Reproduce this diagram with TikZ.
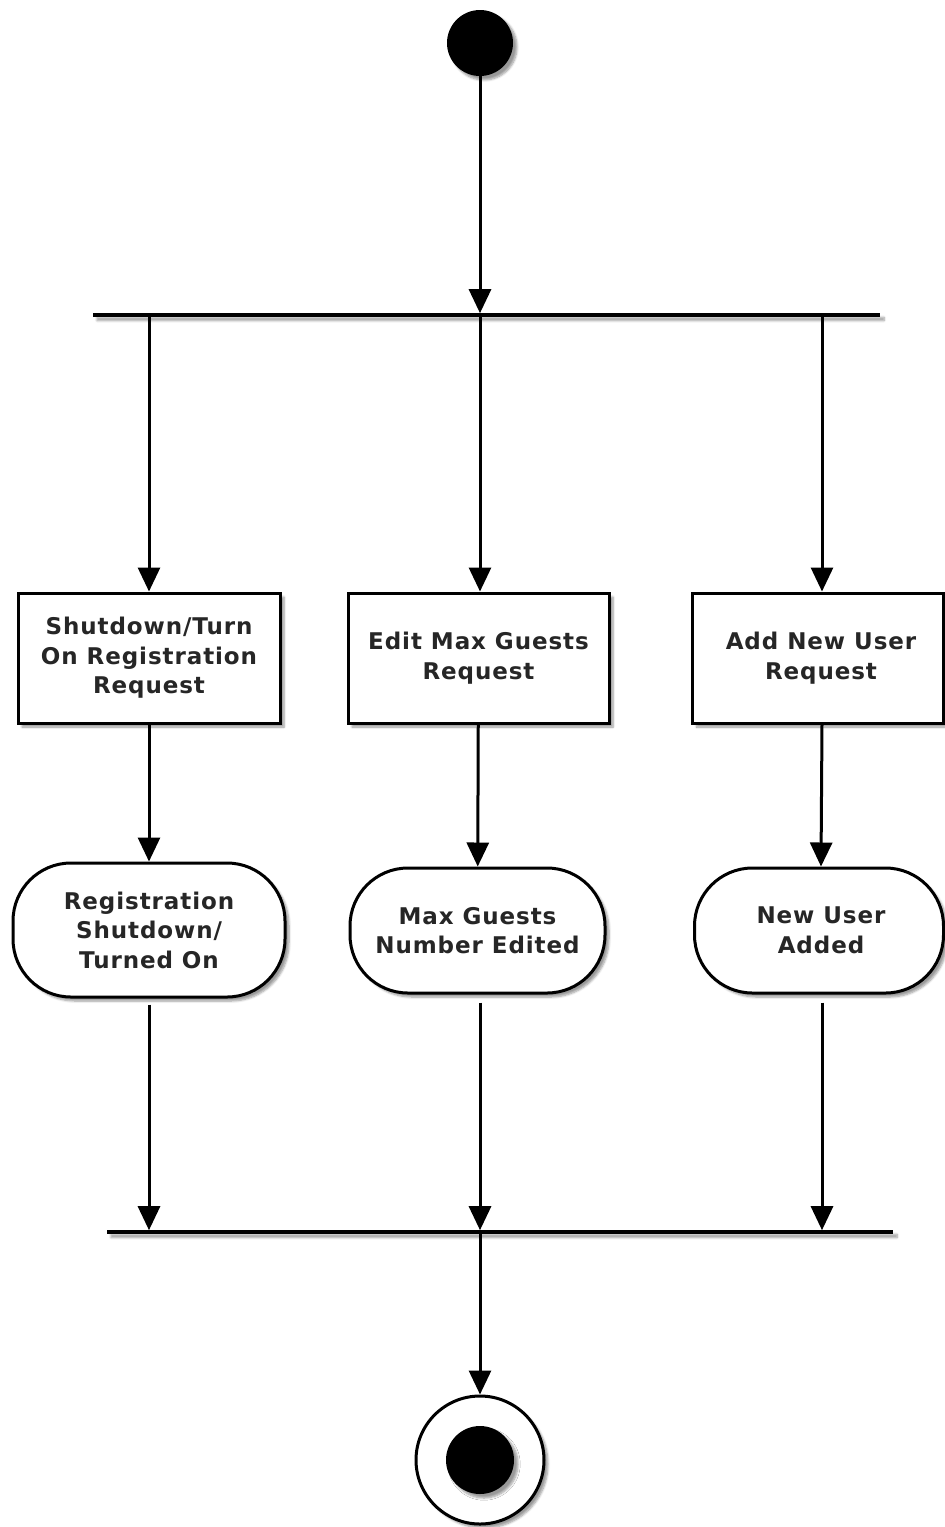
\documentclass[tikz,border=0pt]{standalone}
\usepackage{fontspec}
\setmainfont{DejaVu Sans}
\newfontfamily\labelfont[LetterSpace=4]{DejaVu Sans}
\usetikzlibrary{arrows.meta,shadows.blur}
\begin{document}
\begin{tikzpicture}[x=1pt,y=-1pt,
  soft/.style={blur shadow={shadow xshift=4pt,shadow yshift=-4pt,shadow blur steps=6,shadow opacity=40}},
  label/.style={align=center,font=\labelfont\bfseries\fontsize{23}{29.5}\selectfont,text=black!85},
  actbox/.style={draw,line width=3pt,fill=white,inner sep=0pt,soft,label},
  statebox/.style={actbox,rounded corners=58pt},
  bar/.style={fill=black,inner sep=0pt,minimum height=3.2pt,soft},
  flow/.style={line width=3pt,-{Triangle[width=22pt,length=24pt]}},
]
\useasboundingbox (0,0) rectangle (945,1527);

% initial and final states
\node[circle,fill=black,minimum size=66pt,inner sep=0pt,soft] (start) at (480,43) {};
\node[circle,draw,line width=3pt,fill=white,minimum size=128pt,inner sep=0pt,soft] (stop) at (480,1460) {};
\node[circle,fill=black,minimum size=68pt,inner sep=0pt,soft] (stopdot) at (480,1460) {};

% fork and join bars
\node[bar,minimum width=787pt] (fork) at (486.5,315) {};
\node[bar,minimum width=786pt] (join) at (500,1232) {};

% requests
\node[actbox,minimum width=262pt,minimum height=130pt] (req1) at (149,658) {Shutdown/Turn\\On Registration\\Request};
\node[actbox,minimum width=261pt,minimum height=130pt] (req2) at (478.5,658) {Edit Max Guests\\Request};
\node[actbox,minimum width=251pt,minimum height=130pt] (req3) at (818,658) {\hspace*{6pt}Add New User\\\hspace*{6pt}Request};

% resulting states
\node[statebox,minimum width=272pt,minimum height=134pt] (res1) at (149,930) {Registration\\Shutdown/\\Turned On};
\node[statebox,minimum width=255pt,minimum height=125pt] (res2) at (477.5,930.5) {Max Guests\\Number Edited};
\node[statebox,minimum width=249pt,minimum height=125pt] (res3) at (819,930.5) {\hspace*{4pt}New User\\\hspace*{4pt}Added};

% flows
\draw[flow] (start) -- (fork.north -| start);
\draw[flow] (fork.south -| req1.north) -- (req1.north);
\draw[flow] (fork.south -| start) -- (req2.north -| start);
\draw[flow] ([xshift=4pt]fork.south -| req3.north) -- ([xshift=4pt]req3.north);

\draw[flow] (req1) -- (res1);
\draw[flow] (req2) -- (res2);
\draw[flow] ([xshift=4pt]req3.south) -- ([xshift=2pt]res3.north);

\draw[flow] ([yshift=-6pt]res1.south) -- (join.north -| res1.south);
\draw[flow] ([xshift=2.5pt,yshift=-8pt]res2.south) -- ([xshift=2.5pt]join.north -| res2.south);
\draw[flow] ([xshift=3pt,yshift=-8pt]res3.south) -- ([xshift=3pt]join.north -| res3.south);

\draw[flow] (join.south -| stop) -- (stop);
\end{tikzpicture}
\end{document}
